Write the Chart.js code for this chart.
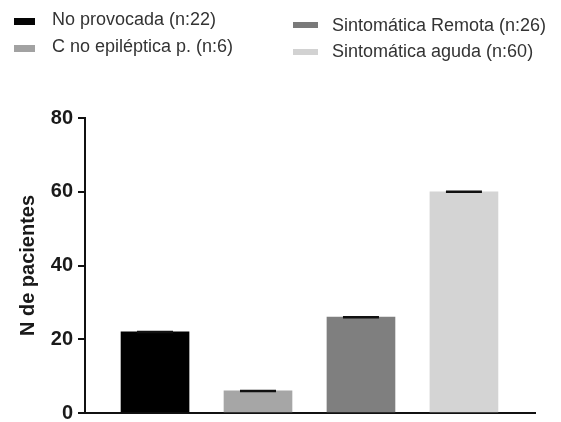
<!DOCTYPE html>
<html>
<head>
<meta charset="utf-8">
<script src="https://cdn.jsdelivr.net/npm/chart.js@4/dist/chart.umd.min.js"></script>
<style>
  html, body { margin: 0; padding: 0; background: #fff; }
  #wrap { position: relative; width: 561px; height: 422px; }
  canvas { position: absolute; left: 0; top: 0; }
  .lg-box { position: absolute; }
  .lg-text { position: absolute; font-family: "Liberation Sans", Arial, sans-serif; font-size: 18px; line-height: 18px; color: #333; white-space: nowrap; }
</style>
</head>
<body>
<div id="wrap">
  <canvas id="c" width="561" height="422"></canvas>
</div>
<script>
const categories = ['No provocada (n:22)', 'C no epiléptica p. (n:6)', 'Sintomática Remota (n:26)', 'Sintomática aguda (n:60)'];
const values = [22, 6, 26, 60];
const errors = [0, 0, 0, 0];
const yTicks = [0, 20, 40, 60, 80];
const yTitle = 'N de pacientes';

const barColors = ['#000000', '#a6a6a6', '#7f7f7f', '#d4d4d4'];
const legendColors = ['#050505', '#a2a2a2', '#7a7a7a', '#d2d2d2'];

// HTML legend (two columns, as in the reference)
const legendSlots = [
  { bx: 14, by: 18, bw: 21, bh: 7, tx: 52, ty: 10 },
  { bx: 14, by: 45, bw: 21, bh: 7, tx: 52, ty: 37 },
  { bx: 293, by: 22, bw: 25, bh: 6, tx: 332, ty: 15.5 },
  { bx: 293, by: 49, bw: 25, bh: 6, tx: 332, ty: 42 }
];
const wrap = document.getElementById('wrap');
categories.forEach((name, i) => {
  const s = legendSlots[i];
  const b = document.createElement('div');
  b.className = 'lg-box';
  Object.assign(b.style, { left: s.bx + 'px', top: s.by + 'px', width: s.bw + 'px', height: s.bh + 'px', background: legendColors[i] });
  const t = document.createElement('div');
  t.className = 'lg-text';
  t.textContent = name;
  Object.assign(t.style, { left: s.tx + 'px', top: s.ty + 'px' });
  wrap.appendChild(b);
  wrap.appendChild(t);
});

const capPlugin = {
  id: 'caps',
  afterDatasetsDraw(chart) {
    const ctx = chart.ctx;
    const meta = chart.getDatasetMeta(0);
    const y = chart.scales.y;
    ctx.save();
    ctx.strokeStyle = '#111';
    ctx.lineWidth = 2.5;
    meta.data.forEach((bar, i) => {
      const yHi = y.getPixelForValue(values[i] + errors[i]);
      const yLo = y.getPixelForValue(values[i] - errors[i]);
      ctx.beginPath();
      ctx.moveTo(bar.x - 18, yHi);
      ctx.lineTo(bar.x + 18, yHi);
      if (errors[i] > 0) {
        ctx.moveTo(bar.x, yHi);
        ctx.lineTo(bar.x, yLo);
      }
      ctx.stroke();
    });
    ctx.restore();
  }
};

new Chart(document.getElementById('c'), {
  type: 'bar',
  data: {
    labels: categories,
    datasets: [{
      data: values.map((v, i) => ({ x: i, y: v })),
      backgroundColor: barColors,
      borderWidth: 0,
      barThickness: 68
    }]
  },
  options: {
    responsive: false,
    animation: false,
    events: [],
    layout: { padding: { top: 118, right: 26, bottom: 9, left: 0 } },
    plugins: { legend: { display: false }, tooltip: { enabled: false } },
    scales: {
      x: {
        type: 'linear',
        offset: false,
        min: -0.68,
        max: 3.69,
        ticks: { display: false },
        grid: { drawOnChartArea: false, drawTicks: false, offset: false },
        border: { display: true, color: '#111', width: 2 },
        afterFit: s => { s.height = 0; }
      },
      y: {
        min: yTicks[0],
        max: yTicks[yTicks.length - 1],
        afterBuildTicks: s => { s.ticks = yTicks.map(v => ({ value: v })); },
        ticks: {
          padding: 5,
          color: '#1a1a1a',
          font: { family: '"Liberation Sans", Arial, sans-serif', size: 20, weight: 'bold', lineHeight: 1 }
        },
        grid: { drawOnChartArea: false, drawTicks: true, tickLength: 7, color: '#111', lineWidth: 2 },
        border: { display: true, color: '#111', width: 2 },
        title: {
          display: true,
          text: yTitle,
          color: '#1a1a1a',
          font: { family: '"Liberation Sans", Arial, sans-serif', size: 20, weight: 'bold' },
          padding: { top: 16, bottom: 0 }
        },
        afterFit: s => { s.width = 85; s.paddingTop = 0; s.paddingBottom = 0; }
      }
    }
  },
  plugins: [capPlugin]
});
</script>
</body>
</html>
